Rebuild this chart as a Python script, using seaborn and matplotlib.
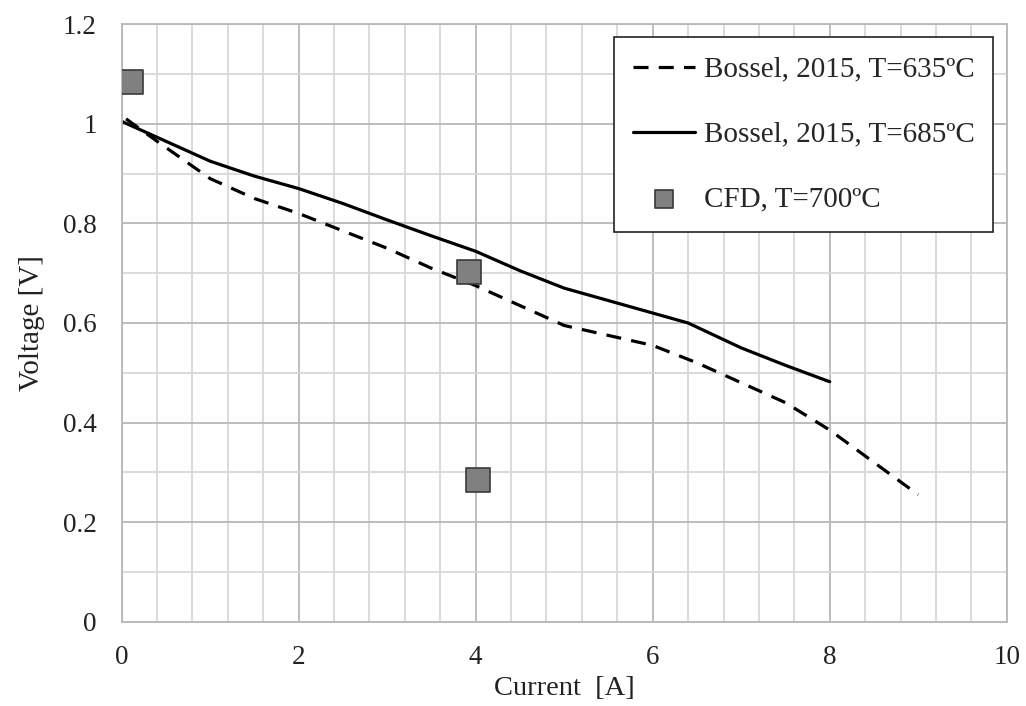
import numpy as np
import pandas as pd
import seaborn as sns
import matplotlib.pyplot as plt
from matplotlib.ticker import MultipleLocator

# Bossel, 2015 curves and CFD points
x_635 = [0.05, 0.4, 1.0, 1.5, 2.0, 2.5, 3.0, 3.5, 4.0, 4.5, 5.0, 5.5, 6.0, 6.5, 7.0, 7.5, 8.0, 8.5, 9.0]
v_635 = [1.01, 0.965, 0.89, 0.85, 0.82, 0.785, 0.75, 0.71, 0.675, 0.635, 0.595, 0.575, 0.555, 0.52, 0.48, 0.44, 0.385, 0.32, 0.255]

x_685 = [0.0, 0.5, 1.0, 1.5, 2.0, 2.5, 3.0, 3.5, 4.0, 4.5, 5.0, 5.5, 6.0, 6.4, 7.0, 7.5, 8.0]
v_685 = [1.005, 0.965, 0.925, 0.895, 0.87, 0.84, 0.807, 0.775, 0.744, 0.705, 0.67, 0.645, 0.62, 0.60, 0.55, 0.515, 0.482]

x_cfd = [0.10, 3.93, 4.03]
v_cfd = [1.085, 0.703, 0.285]

labels = ['Bossel, 2015, T=635ºC', 'Bossel, 2015, T=685ºC', 'CFD, T=700ºC']

sns.set_theme(style='white')
plt.rcParams['font.family'] = ['Liberation Serif', 'DejaVu Serif']
plt.rcParams['font.size'] = 19

fig = plt.figure(figsize=(10.26, 7.06), dpi=100)
ax = fig.add_axes([0.1186, 0.1194, 0.8626, 0.8462])

sns.lineplot(x=x_635, y=v_635, ax=ax, color='black', lw=2.3,
             linestyle=(0, (4.7, 3.2)), label=labels[0], sort=False)
sns.lineplot(x=x_685, y=v_685, ax=ax, color='black', lw=2.3,
             label=labels[1], sort=False)
sns.scatterplot(x=x_cfd, y=v_cfd, ax=ax, marker='s', s=300, color='#808080',
                edgecolor='#3a3a3a', linewidth=1.2, label=labels[2], zorder=5)

ax.set_xlim(0, 10)
ax.set_ylim(0, 1.2)
ax.xaxis.set_major_locator(MultipleLocator(2))
ax.xaxis.set_minor_locator(MultipleLocator(0.4))
ax.yaxis.set_major_locator(MultipleLocator(0.2))
ax.yaxis.set_minor_locator(MultipleLocator(0.1))
ax.set_yticks([0, 0.2, 0.4, 0.6, 0.8, 1.0, 1.2])
ax.set_yticklabels(['0', '0.2', '0.4', '0.6', '0.8', '1', '1.2'])
ax.grid(which='major', color='#b8b8b8', lw=1.3)
ax.grid(which='minor', color='#d8d8d8', lw=1.3)
ax.set_axisbelow(True)
ax.tick_params(which='both', length=0, labelsize=19.5, colors='#222222')
ax.tick_params(axis='x', pad=17)
ax.tick_params(axis='y', pad=18)
for sp in ax.spines.values():
    sp.set_color('#b8b8b8')
    sp.set_linewidth(1.3)

ax.set_xlabel('Current  [A]', fontsize=20.5, color='#222222', labelpad=4)
ax.set_ylabel('Voltage [V]', fontsize=21, color='#222222', labelpad=13)

leg = ax.legend(loc='upper right', bbox_to_anchor=(0.985, 0.978), borderaxespad=0,
                frameon=True, fancybox=False, edgecolor='#222222', framealpha=1,
                handlelength=2.15, handletextpad=0.28, labelspacing=1.32,
                borderpad=0.65, fontsize=21, markerscale=0.75)
leg.get_frame().set_linewidth(1.2)

fig.savefig('out.png', dpi=100)
